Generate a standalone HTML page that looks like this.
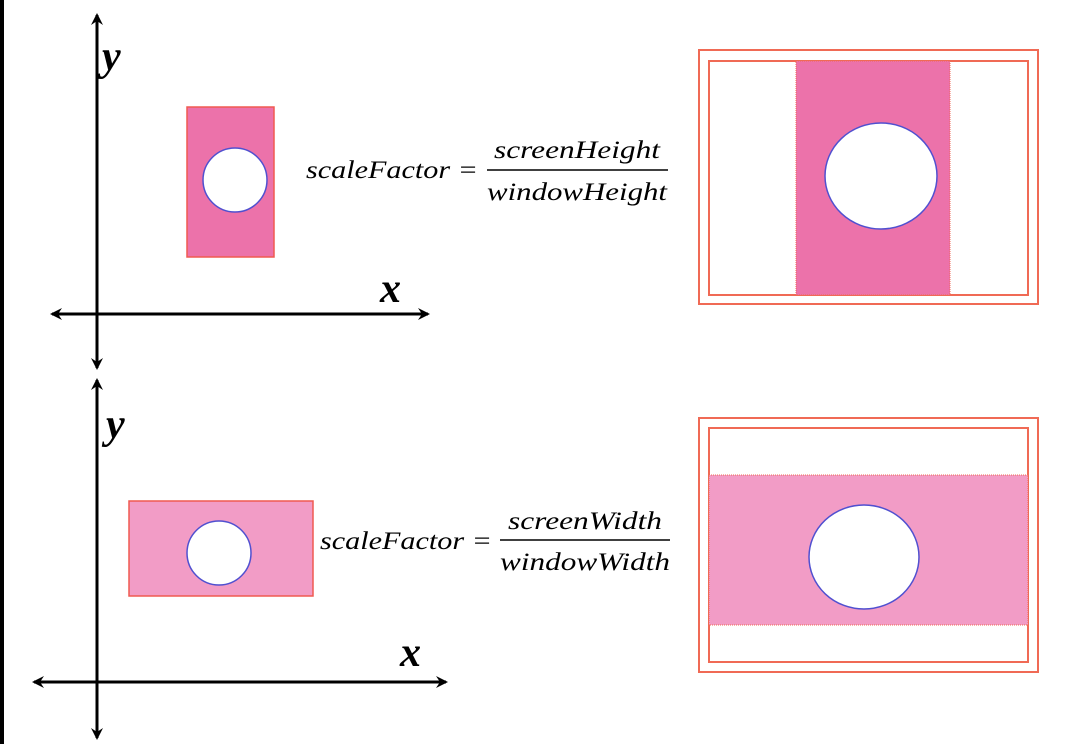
<!DOCTYPE html>
<html><head><meta charset="utf-8"><style>
html,body{margin:0;padding:0;background:#fff;}
svg{display:block;}
text{font-family:"Liberation Serif",serif;font-style:italic;}
</style></head><body>
<svg width="1068" height="744" viewBox="0 0 1068 744">
<defs>
<marker id="ah" viewBox="0 0 12 12" refX="10" refY="6" markerWidth="12" markerHeight="12" markerUnits="userSpaceOnUse" orient="auto-start-reverse">
<path d="M0,0 L12,6 L0,12 L4,6 Z" fill="#000"/>
</marker>
</defs>
<rect x="0" y="0" width="4" height="744" fill="#000"/>

<g>
<line x1="97" y1="368" x2="97" y2="15" stroke="#000" stroke-width="3" marker-start="url(#ah)" marker-end="url(#ah)"/>
<line x1="52" y1="314" x2="428" y2="314" stroke="#000" stroke-width="3" marker-start="url(#ah)" marker-end="url(#ah)"/>
<text x="102" y="70" font-size="42" font-weight="bold">y</text>
<text x="380" y="302" font-size="42" font-weight="bold">x</text>
<rect x="187" y="107" width="87" height="150" fill="#ec72aa" stroke="#f05a50" stroke-width="1.5"/>
<circle cx="235" cy="180" r="32" fill="#fff" stroke="#5050d0" stroke-width="1.5"/>
<text x="306" y="178" font-size="25" textLength="172" lengthAdjust="spacingAndGlyphs">scaleFactor =</text>
<text x="494" y="158" font-size="25" textLength="166" lengthAdjust="spacingAndGlyphs">screenHeight</text>
<line x1="487" y1="170" x2="668" y2="170" stroke="#000" stroke-width="1.5"/>
<text x="487" y="200" font-size="25" textLength="180" lengthAdjust="spacingAndGlyphs">windowHeight</text>
<rect x="699" y="50" width="339" height="254" fill="none" stroke="#f06a55" stroke-width="2"/>
<rect x="709" y="61" width="319" height="234" fill="none" stroke="#f06a55" stroke-width="2"/>
<rect x="796" y="61" width="154" height="234" fill="#ec72aa" stroke="#f06a55" stroke-width="1" stroke-dasharray="1 1"/>
<ellipse cx="881" cy="176" rx="56" ry="53" fill="#fff" stroke="#5050d0" stroke-width="1.5"/>
</g>

<g>
<line x1="97" y1="738" x2="97" y2="380" stroke="#000" stroke-width="3" marker-start="url(#ah)" marker-end="url(#ah)"/>
<line x1="34" y1="682" x2="446" y2="682" stroke="#000" stroke-width="3" marker-start="url(#ah)" marker-end="url(#ah)"/>
<text x="106" y="438" font-size="42" font-weight="bold">y</text>
<text x="400" y="666" font-size="42" font-weight="bold">x</text>
<rect x="129" y="501" width="184" height="95" fill="#f29cc6" stroke="#f05a50" stroke-width="1.5"/>
<circle cx="219" cy="553" r="32" fill="#fff" stroke="#5050d0" stroke-width="1.5"/>
<text x="320" y="549" font-size="25" textLength="172" lengthAdjust="spacingAndGlyphs">scaleFactor =</text>
<text x="508" y="529" font-size="25" textLength="154" lengthAdjust="spacingAndGlyphs">screenWidth</text>
<line x1="500" y1="540" x2="670" y2="540" stroke="#000" stroke-width="1.5"/>
<text x="500" y="570" font-size="25" textLength="170" lengthAdjust="spacingAndGlyphs">windowWidth</text>
<rect x="699" y="418" width="339" height="254" fill="none" stroke="#f06a55" stroke-width="2"/>
<rect x="709" y="428" width="319" height="234" fill="none" stroke="#f06a55" stroke-width="2"/>
<rect x="709" y="475" width="319" height="150" fill="#f29cc6" stroke="#f06a55" stroke-width="1" stroke-dasharray="1 1"/>
<ellipse cx="864" cy="557" rx="55" ry="52" fill="#fff" stroke="#5050d0" stroke-width="1.5"/>
</g>
</svg>
</body></html>
